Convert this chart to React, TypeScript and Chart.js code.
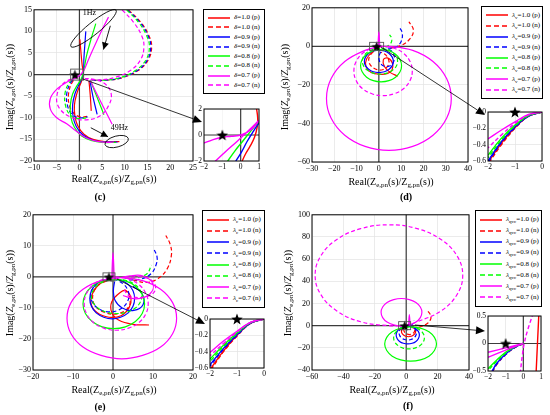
import { useEffect, useRef } from 'react';
import { Chart, registerables } from 'chart.js';

Chart.register(...registerables);

type P = [number, number] | null;
type Box = { l: number; t: number; w: number; h: number };
type Note =
  | { kind: 'ellipse'; x: number; y: number; rx: number; ry: number; rot: number }
  | { kind: 'arrow'; x: number; y: number; x2: number; y2: number }
  | { kind: 'text'; x: number; y: number; text: string }
  | { kind: 'box'; x: number; y: number; w: number; h: number };

const FONT = '"Liberation Serif", "Times New Roman", serif';
const RED = '#ff0000';
const BLUE = '#0000ff';
const GREEN = '#00ff00';
const MAGENTA = '#ff00ff';

const gainLabels = ['1.0', '0.9', '0.8', '0.7'];
const gainColors = [RED, BLUE, GREEN, MAGENTA];
const critical: P[] = [[-1, 0]];

// ---- (c) delta ----
const cTicksX = [-10, -5, 0, 5, 10, 15, 20, 25];
const cTicksY = [-20, -15, -10, -5, 0, 5, 10, 15];
const cRedP: P[] = [[0.1, 8.2], [0.35, 5], [0.6, 2.2], [0.85, 0.3], [0.7, -0.8], [0.1, -2.5], [-0.6, -4.5], [-1.1, -7], [-1, -9.5], [-0.4, -11.8], [1, -13.8], [3, -15], [5.5, -15.5], [8.8, -15.5], null, [2.1, -1.4], [2.4, -5], [2.6, -8.4]];
const cBlueP: P[] = [[1.4, 10], [1.2, 7], [1, 4], [0.9, 1], [0.6, -0.8], [-0.2, -2.5], [-1, -4.5], [-1.5, -7], [-1.4, -9.7], [-0.7, -12], [0.8, -14], [3, -15.2], [5.5, -15.6], [8.4, -15.6], null, [2.3, -1.4], [3, -5.2], [3.9, -9.2]];
const cGreenP: P[] = [[3.6, 11.8], [2.5, 8], [1.6, 4.5], [1, 1.2], [0.5, -0.8], [-0.5, -2.5], [-1.5, -4.5], [-2, -7], [-1.9, -9.8], [-1.1, -12.2], [0.5, -14.2], [2.8, -15.3], [5.2, -15.7], [8, -15.7], null, [2.4, -1.3], [3.8, -5], [5.4, -9.3]];
const cMagentaP: P[] = [[6.4, 13.3], [4.8, 10], [3.4, 6.8], [2, 3.5], [0.8, 0.7], [-0.5, -0.6], [-2.5, -1.6], [-4.8, -3.2], [-6.4, -5.5], [-6.4, -8], [-5, -10], [-2.8, -11.4], [-0.8, -13], [1.2, -14.5], [3.6, -15.4], [6.2, -15.7], [7.6, -15.6], null, [2.4, -1.4], [4.8, -6.5], [7.2, -11.5]];
const cRedN: P[] = [[10.8, 15], [13.6, 12], [15.3, 9], [15.9, 6.5], [15.2, 3.5], [13, 1], [9.5, -0.7], [6, -1.3], [3, -1.3], null, [-0.3, -0.3], [-1.6, -1.8], [-2.4, -4.5], [-2.2, -7.2], [-1.2, -9], [0.3, -9.8], [2, -9.6]];
const cBlueN: P[] = [[10.6, 15], [13.4, 12], [15.1, 9], [15.7, 6.5], [15, 3.5], [12.8, 1], [9.3, -0.7], [5.8, -1.3], [2.8, -1.3], null, [-0.4, -0.3], [-1.9, -1.8], [-2.8, -4.5], [-2.6, -7.3], [-1.6, -9.2], [0, -10], [1.8, -9.8]];
const cGreenN: P[] = [[10.4, 15], [13.1, 12], [14.8, 9], [15.4, 6.5], [14.7, 3.5], [12.4, 1], [9, -0.7], [5.5, -1.3], [2.6, -1.3], null, [-0.5, -0.3], [-2.2, -1.8], [-3.2, -4.5], [-3, -7.4], [-2, -9.4], [-0.4, -10.2], [1.5, -10]];
const cMagentaN: P[] = [[9.4, 15], [12, 12], [13.7, 9], [14.2, 6.5], [13.5, 3.5], [11.3, 1], [8, -0.6], [4.5, -1.2], [1.5, -1.2], null, [-0.5, -0.4], [-3.8, -2.3], [-5, -5.2], [-4.4, -7.8], [-2, -9.8], [1, -10.5], [4.5, -9.6], [6.5, -7], [7, -4.5], [5.8, -2.3], [3.2, -1.1], [1.2, -0.9]];
const ciTicksX = [-2, -1, 0, 1];
const ciTicksY = [-2, 0, 2];
const ciRedP: P[] = [[0.86, 2.1], [0.93, 1.3], [0.9, 0.6], [0.75, -0.2], [0.5, -0.9], [0.25, -1.5], [0.05, -2.1]];
const ciBlueP: P[] = [[1.05, 1.05], [0.7, 0.3], [0.35, -0.5], [0.05, -1.3], [-0.3, -2.1]];
const ciGreenP: P[] = [[1.05, 1.15], [0.55, 0.3], [0.1, -0.5], [-0.3, -1.2], [-0.75, -2.1]];
const ciMagentaP: P[] = [[1.05, 1.2], [0.4, 0.3], [-0.2, -0.5], [-0.8, -1.25], [-1.45, -2.1], null, [1.05, 1.2], [0.6, 0.45], [0.06, 0.02], [-0.5, -0.1], [-1, -0.17], [-1.5, -0.35], [-2.1, -0.68]];

// ---- (d) lambda_v ----
const dTicksX = [-30, -20, -10, 0, 10, 20, 30, 40];
const dTicksY = [-60, -40, -20, 0, 20];
const dRedP: P[] = [[0.5, -0.5], [-3, -3], [-5.5, -6.5], [-5.8, -10.5], [-3.5, -13.5], [0.5, -14.5], [4, -14], [6, -12], [6, -8.5], [3.8, -6], [2, -7], [2.5, -10.5], [5, -13.5], [8.5, -15.5]];
const dRedN: P[] = [[0, -1], [-3.5, -4], [-4.5, -8], [-2, -11.5], [2, -12], [4.5, -9], [3.5, -5], [1, -3], null, [5, -1], [10, 0.5], [14, 4], [15.5, 8.5], [13.5, 12.8]];
const dBlueP: P[] = [[0, -2], [-2.5, -2.4], [-4.6, -3.7], [-6, -5.6], [-6.5, -7.8], [-6, -10], [-4.6, -11.9], [-2.5, -13.2], [0, -13.6], [2.5, -13.2], [4.6, -11.9], [6, -10], [6.5, -7.8], [6, -5.6], [4.6, -3.7], [2.5, -2.4], [0, -2]];
const dBlueN: P[] = [[3.5, -1.5], [2.2, -1.8], [1, -2.8], [0.3, -4.3], [0, -6], [0.3, -7.7], [1, -9.2], [2.2, -10.2], [3.5, -10.5], [4.8, -10.2], [6, -9.2], [6.7, -7.7], [7, -6], [6.7, -4.3], [6, -2.8], [4.8, -1.8], [3.5, -1.5], null, [4, -1], [7.5, -0.5], [10, 2.5], [10.5, 7], [9, 10.3]];
const dGreenP: P[] = [[1, -1.7], [-2.5, -2.3], [-5.5, -4.1], [-7.5, -6.8], [-8.2, -10], [-7.5, -13.2], [-5.5, -16], [-2.5, -17.8], [1, -18.4], [4.5, -17.8], [7.5, -16], [9.5, -13.2], [10.2, -10], [9.5, -6.8], [7.5, -4.1], [4.5, -2.3], [1, -1.7]];
const dGreenN: P[] = [[0.5, -1], [-2.5, -1.5], [-5.1, -3], [-6.8, -5.1], [-7.4, -7.7], [-6.8, -10.3], [-5.1, -12.4], [-2.5, -13.9], [0.5, -14.4], [3.5, -13.9], [6.1, -12.4], [7.8, -10.3], [8.4, -7.7], [7.8, -5.1], [6.1, -3], [3.5, -1.5], [0.5, -1], null, [3, -0.5], [5.3, 1.5], [5.8, 4], [4.8, 6]];
const dMagentaP: P[] = [[0, -0.2], [-6.2, -2.1], [-15.3, -7.9], [-21.4, -16.7], [-23.5, -27], [-21.4, -37.3], [-15.3, -46.1], [-6.2, -51.9], [4.5, -54], [15.2, -51.9], [24.3, -46.1], [30.4, -37.3], [32.5, -27], [30.4, -16.7], [24.3, -7.9], [15.2, -2.1], [4.5, 0], [0, -0.2], null, [-0.4, 0], [0, 7.5], [0.4, 0]];
const dMagentaN: P[] = [[1.9, 0], [-3.1, -1], [-7.4, -3.7], [-10.2, -7.9], [-11.2, -12.8], [-10.2, -17.7], [-7.4, -21.9], [-3.1, -24.6], [1.9, -25.6], [6.9, -24.6], [11.2, -21.9], [14, -17.7], [15, -12.8], [14, -7.9], [11.2, -3.7], [6.9, -1], [1.9, 0]];
const diTicksX = [-2, -1, 0];
const diTicksY = [-0.6, -0.4, -0.2, 0];
const diRedP: P[] = [[0, 0], [-0.5, -0.05], [-1, -0.19], [-1.5, -0.38], [-2, -0.62]];
const diRedN: P[] = [[0, 0], [-0.5, -0.05], [-1, -0.2], [-1.5, -0.4], [-2, -0.64]];
const diBlueP: P[] = [[0, 0], [-0.5, -0.05], [-1, -0.18], [-1.5, -0.36], [-2, -0.6]];
const diBlueN: P[] = [[0, 0], [-0.5, -0.05], [-1, -0.19], [-1.5, -0.37], [-2, -0.62]];
const diGreenP: P[] = [[0, 0], [-0.5, -0.04], [-1, -0.16], [-1.5, -0.32], [-2, -0.53]];
const diGreenN: P[] = [[0, 0], [-0.5, -0.045], [-1, -0.17], [-1.5, -0.34], [-2, -0.56]];
const diMagentaP: P[] = [[0, 0], [-0.5, -0.03], [-1, -0.12], [-1.5, -0.22], [-2, -0.33]];
const diMagentaN: P[] = [[0, 0], [-0.5, -0.035], [-1, -0.14], [-1.5, -0.28], [-2, -0.44]];

// ---- (e) lambda_c ----
const eTicksX = [-20, -10, 0, 10, 20];
const eTicksY = [-30, -20, -10, 0, 10, 20];
const eRedP: P[] = [[0.3, -0.5], [-3, -2], [-5, -5], [-5.5, -8.5], [-4, -11.5], [-1, -13], [2, -12.5], [4, -10], [4.5, -7], [3.3, -4.5], [1.8, -5], [-0.3, -8], [-0.3, -11.5], [1.5, -14], [5, -15.3], [9, -15.5]];
const eRedN: P[] = [[-0.3, -0.8], [-3.5, -2.5], [-5, -5.5], [-4.6, -9], [-2, -11.5], [1.5, -11.8], [4, -9.5], [4, -6], [2.5, -3.5], null, [5, -1], [8.5, -1.8], [11.3, -0.5], [13.5, 2.5], [14.6, 7], [14.3, 10.5], [13.2, 13.3]];
const eBlueP: P[] = [[-0.2, -0.5], [-2.3, -1], [-4.2, -2.4], [-5.4, -4.5], [-5.8, -7], [-5.4, -9.5], [-4.2, -11.6], [-2.3, -13], [-0.2, -13.5], [1.9, -13], [3.8, -11.6], [5, -9.5], [5.4, -7], [5, -4.5], [3.8, -2.4], [1.9, -1], [-0.2, -0.5], null, [0.4, -1.5], [0.1, -4.5], [0.5, -7.5], [2.3, -10], [5.2, -10.8], [7.5, -9], [7.3, -5.5], [5, -3]];
const eBlueN: P[] = [[-0.8, -0.7], [-2.6, -1.1], [-4.2, -2.3], [-5.2, -4], [-5.6, -6], [-5.2, -8], [-4.2, -9.7], [-2.6, -10.9], [-0.8, -11.3], [1, -10.9], [2.6, -9.7], [3.6, -8], [4, -6], [3.6, -4], [2.6, -2.3], [1, -1.1], [-0.8, -0.7], null, [4, -1], [7, -0.7], [9.5, 1], [10.8, 4], [11, 6.5], [10.2, 9]];
const eGreenP: P[] = [[0.2, -0.7], [-2.7, -1.3], [-5.2, -3], [-6.9, -5.6], [-7.5, -8.7], [-6.9, -11.8], [-5.2, -14.4], [-2.7, -16.1], [0.2, -16.7], [3.1, -16.1], [5.6, -14.4], [7.3, -11.8], [7.9, -8.7], [7.3, -5.6], [5.6, -3], [3.1, -1.3], [0.2, -0.7]];
const eGreenN: P[] = [[0.9, -0.8], [-1.5, -1.2], [-3.6, -2.4], [-4.9, -4.2], [-5.4, -6.3], [-4.9, -8.4], [-3.6, -10.2], [-1.5, -11.4], [0.9, -11.8], [3.3, -11.4], [5.4, -10.2], [6.7, -8.4], [7.2, -6.3], [6.7, -4.2], [5.4, -2.4], [3.3, -1.2], [0.9, -0.8], null, [3, -0.5], [6, -0.2], [8.5, 1], [9.6, 3.8]];
const eMagentaP: P[] = [[2.2, -0.2], [-3, -1.2], [-7.5, -4], [-10.5, -8.3], [-11.5, -13.3], [-10.5, -18.3], [-7.5, -22.6], [-3, -25.3], [2.2, -26.4], [7.4, -25.3], [11.9, -22.6], [14.9, -18.3], [15.9, -13.3], [14.9, -8.3], [11.9, -4], [7.4, -1.2], [2.2, -0.2], null, [-0.3, 0], [0, 7.8], [0.3, 0], null, [0.4, -0.7], [4.2, 0.3], [7.5, 0.3], [10, -2.3], [9.2, -5.5], [5.8, -7.1], [2.5, -6]];
const eMagentaN: P[] = [[0.8, 0], [-2.3, -0.7], [-4.9, -2.5], [-6.6, -5.3], [-7.2, -8.6], [-6.6, -11.9], [-4.9, -14.7], [-2.3, -16.5], [0.8, -17.2], [3.9, -16.5], [6.5, -14.7], [8.2, -11.9], [8.8, -8.6], [8.2, -5.3], [6.5, -2.5], [3.9, -0.7], [0.8, 0], null, [3, -0.5], [7, 0], [10, -1.5], [10.5, -4.5], [8, -6.5], [4, -6], [2.5, -3.5]];
const eiRedP: P[] = [[0, 0], [-0.5, -0.05], [-1, -0.2], [-1.5, -0.39], [-2, -0.62]];
const eiRedN: P[] = [[0, 0], [-0.5, -0.055], [-1, -0.21], [-1.5, -0.4], [-2, -0.64]];
const eiBlueP: P[] = [[0, 0], [-0.5, -0.05], [-1, -0.19], [-1.5, -0.36], [-2, -0.56]];
const eiBlueN: P[] = [[0, 0], [-0.5, -0.05], [-1, -0.2], [-1.5, -0.37], [-2, -0.58]];
const eiGreenP: P[] = [[0, 0], [-0.5, -0.045], [-1, -0.17], [-1.5, -0.32], [-2, -0.49]];
const eiGreenN: P[] = [[0, 0], [-0.5, -0.045], [-1, -0.18], [-1.5, -0.34], [-2, -0.52]];
const eiMagentaP: P[] = [[0, 0], [-0.5, -0.04], [-1, -0.15], [-1.5, -0.27], [-2, -0.41]];
const eiMagentaN: P[] = [[0, 0], [-0.5, -0.04], [-1, -0.16], [-1.5, -0.3], [-2, -0.45]];

// ---- (f) lambda_qvc ----
const fTicksX = [-60, -40, -20, 0, 20, 40];
const fTicksY = [-40, -20, 0, 20, 40, 60, 80, 100];
const fRedP: P[] = [[1.5, 0], [-0.2, -0.4], [-1.7, -1.5], [-2.7, -3.1], [-3, -5], [-2.7, -6.9], [-1.7, -8.5], [-0.2, -9.6], [1.5, -10], [3.2, -9.6], [4.7, -8.5], [5.7, -6.9], [6, -5], [5.7, -3.1], [4.7, -1.5], [3.2, -0.4], [1.5, 0]];
const fRedN: P[] = [[4, -2], [9, -1], [13, 1.5], [15.5, 5.5], [15.5, 9.5], [13.7, 13.4], null, [2, 0], [0.7, -0.3], [-0.5, -1.2], [-1.2, -2.5], [-1.5, -4], [-1.2, -5.5], [-0.5, -6.8], [0.7, -7.7], [2, -8], [3.3, -7.7], [4.5, -6.8], [5.2, -5.5], [5.5, -4], [5.2, -2.5], [4.5, -1.2], [3.3, -0.3], [2, 0]];
const fBlueP: P[] = [[1, -0.5], [-1.8, -1.1], [-4.2, -2.8], [-5.8, -5.4], [-6.4, -8.5], [-5.8, -11.6], [-4.2, -14.2], [-1.8, -15.9], [1, -16.5], [3.8, -15.9], [6.2, -14.2], [7.8, -11.6], [8.4, -8.5], [7.8, -5.4], [6.2, -2.8], [3.8, -1.1], [1, -0.5]];
const fBlueN: P[] = [[1, 0], [-1.1, -0.5], [-2.9, -1.9], [-4.1, -4], [-4.5, -6.5], [-4.1, -9], [-2.9, -11.1], [-1.1, -12.5], [1, -13], [3.1, -12.5], [4.9, -11.1], [6.1, -9], [6.5, -6.5], [6.1, -4], [4.9, -1.9], [3.1, -0.5], [1, 0], null, [2.5, 0], [4.5, 2], [5, 4.5]];
const fGreenP: P[] = [[2.8, -1], [-3.5, -2.2], [-8.9, -5.5], [-12.4, -10.6], [-13.7, -16.5], [-12.4, -22.4], [-8.9, -27.5], [-3.5, -30.8], [2.8, -32], [9.1, -30.8], [14.5, -27.5], [18, -22.4], [19.3, -16.5], [18, -10.6], [14.5, -5.5], [9.1, -2.2], [2.8, -1]];
const fGreenN: P[] = [[1.8, -1], [-1.95, -1.8], [-5.1, -3.9], [-7.25, -7.2], [-8, -11], [-7.25, -14.8], [-5.1, -18.1], [-1.95, -20.2], [1.8, -21], [5.55, -20.2], [8.7, -18.1], [10.85, -14.8], [11.6, -11], [10.85, -7.2], [8.7, -3.9], [5.55, -1.8], [1.8, -1]];
const fMagentaP: P[] = [[-3, -0.5], [-8, 0.7], [-12.2, 3.2], [-15, 7.2], [-16, 12], [-15, 16.8], [-12.2, 20.8], [-8, 23.5], [-3, 24.5], [2, 23.5], [6.2, 20.8], [9, 16.8], [10, 12], [9, 7.2], [6.2, 3.2], [2, 0.7], [-3, -0.5], null, [1.5, 0], [2, 10], [2.5, 0]];
const fMagentaN: P[] = [[0, 0.3], [7, 3.5], [22.2, 13.3], [32.4, 28.1], [36, 45.5], [32.4, 62.9], [22.2, 77.7], [7, 87.5], [-11, 91], [-29, 87.5], [-44.2, 77.7], [-54.4, 62.9], [-58, 45.5], [-54.4, 28.1], [-44.2, 13.3], [-29, 3.5], [-11, 0], [0, 0.3]];
const fiTicksX = [-2, -1, 0, 1];
const fiTicksY = [-0.5, 0, 0.5];
const fiRedP: P[] = [[0.72, -0.55], [0.8, 0], [0.88, 0.55]];
const fiRedN: P[] = [[0, 0], [-0.5, -0.08], [-1, -0.2], [-1.5, -0.38], [-1.75, -0.52]];
const fiBlueP: P[] = [[0, 0], [-0.5, -0.07], [-1, -0.19], [-1.5, -0.36], [-1.8, -0.52]];
const fiBlueN: P[] = [[0, 0], [-0.5, -0.075], [-1, -0.2], [-1.5, -0.37], [-1.78, -0.52]];
const fiGreenP: P[] = [[0, 0], [-0.5, -0.06], [-1, -0.16], [-1.5, -0.3], [-2, -0.46]];
const fiGreenN: P[] = [[0, 0], [-0.5, -0.065], [-1, -0.17], [-1.5, -0.32], [-2, -0.49]];
const fiMagentaP: P[] = [[0, 0], [-1, -0.08], [-2, -0.16], null, [0, 0], [-1, -0.12], [-2, -0.25]];
const fiMagentaN: P[] = [[-0.18, -0.55], [-0.05, -0.2], [0.05, 0], [0.25, 0.25], [0.56, 0.55]];

// annotations in data units (ellipse radii in px)
const cNotes: Note[] = [
  { kind: 'ellipse', x: 3.1, y: 10.7, rx: 29, ry: 6, rot: -39 },
  { kind: 'arrow', x: 6.8, y: 11.3, x2: 5.3, y2: 5.8 },
  { kind: 'text', x: 2.2, y: 14.2, text: '1Hz' },
  { kind: 'ellipse', x: 8.2, y: -15.5, rx: 12, ry: 5.5, rot: -15 },
  { kind: 'arrow', x: 2.5, y: -12.3, x2: 6.3, y2: -14.4 },
  { kind: 'text', x: 8.8, y: -12.4, text: '49Hz' },
  { kind: 'box', x: -0.5, y: 0, w: 13, h: 11 },
];
const dNotes: Note[] = [{ kind: 'box', x: -1, y: 0, w: 14, h: 8 }];
const eNotes: Note[] = [{ kind: 'box', x: -1, y: 0, w: 12, h: 8 }];
const fNotes: Note[] = [{ kind: 'box', x: -1, y: 0, w: 12, h: 8 }];

// zoom arrows (page px): x1, y1, x2, y2
const zoomArrows = [
  [83, 79, 202, 122],
  [381, 47, 485, 115],
  [117, 279, 205, 324],
  [415, 325, 485, 331],
];

const fmt = (v: number) => (v < 0 ? '\u2212' + String(Math.abs(v)) : String(v));
const toXY = (pts: P[]) => pts.map((p) => (p ? { x: p[0], y: p[1] } : { x: NaN, y: NaN }));

function starCanvas(size: number) {
  const c = document.createElement('canvas');
  c.width = size;
  c.height = size;
  const g = c.getContext('2d')!;
  const r = size / 2;
  g.beginPath();
  for (let k = 0; k < 10; k++) {
    const rad = k % 2 === 0 ? r : r * 0.42;
    const a = -Math.PI / 2 + (k * Math.PI) / 5;
    const px = r + rad * Math.cos(a);
    const py = r + 0.6 + rad * Math.sin(a);
    if (k === 0) g.moveTo(px, py);
    else g.lineTo(px, py);
  }
  g.closePath();
  g.fillStyle = '#000';
  g.fill();
  return c;
}

function headPath(ctx: CanvasRenderingContext2D, x1: number, y1: number, x2: number, y2: number, len: number, half: number) {
  const d = Math.hypot(x2 - x1, y2 - y1) || 1;
  const ux = (x2 - x1) / d;
  const uy = (y2 - y1) / d;
  ctx.beginPath();
  ctx.moveTo(x2, y2);
  ctx.lineTo(x2 - ux * len - uy * half, y2 - uy * len + ux * half);
  ctx.lineTo(x2 - ux * len + uy * half, y2 - uy * len - ux * half);
  ctx.closePath();
  ctx.fill();
}

function framePlugin(notes: Note[]) {
  return {
    id: 'frame',
    beforeDatasetsDraw(chart: any) {
      const { ctx, chartArea: a, scales } = chart;
      const x0 = scales.x.getPixelForValue(0);
      const y0 = scales.y.getPixelForValue(0);
      ctx.save();
      ctx.strokeStyle = '#3c3c3c';
      ctx.lineWidth = 1.2;
      ctx.beginPath();
      if (x0 > a.left + 1 && x0 < a.right - 1) {
        ctx.moveTo(x0, a.top);
        ctx.lineTo(x0, a.bottom);
      }
      if (y0 > a.top + 1 && y0 < a.bottom - 1) {
        ctx.moveTo(a.left, y0);
        ctx.lineTo(a.right, y0);
      }
      ctx.stroke();
      ctx.restore();
    },
    afterDatasetsDraw(chart: any) {
      const { ctx, chartArea: a, scales } = chart;
      const px = (v: number) => scales.x.getPixelForValue(v);
      const py = (v: number) => scales.y.getPixelForValue(v);
      ctx.save();
      ctx.strokeStyle = '#000';
      ctx.fillStyle = '#000';
      ctx.lineWidth = 0.9;
      for (const n of notes) {
        if (n.kind === 'ellipse') {
          ctx.beginPath();
          ctx.ellipse(px(n.x), py(n.y), n.rx, n.ry, (n.rot * Math.PI) / 180, 0, Math.PI * 2);
          ctx.stroke();
        } else if (n.kind === 'arrow') {
          const x1 = px(n.x), y1 = py(n.y), x2 = px(n.x2), y2 = py(n.y2);
          ctx.beginPath();
          ctx.moveTo(x1, y1);
          ctx.lineTo(x2, y2);
          ctx.stroke();
          headPath(ctx, x1, y1, x2, y2, 7, 3.5);
        } else if (n.kind === 'text') {
          ctx.font = `8px ${FONT}`;
          ctx.textAlign = 'center';
          ctx.textBaseline = 'middle';
          ctx.fillText(n.text, px(n.x), py(n.y));
        } else {
          ctx.strokeStyle = '#555';
          ctx.strokeRect(px(n.x) - n.w / 2, py(n.y) - n.h / 2, n.w, n.h);
          ctx.strokeStyle = '#000';
        }
      }
      ctx.lineWidth = 1;
      ctx.strokeRect(a.left, a.top, a.right - a.left, a.bottom - a.top);
      ctx.restore();
    },
  };
}

type PlotProps = {
  box: Box;
  xt: number[];
  yt: number[];
  p: P[][];
  n: P[][];
  pad: number[];
  fs?: number;
  lw?: number;
  grid?: string;
  notes?: Note[];
  star?: number;
};

function Plot({ box, xt, yt, p, n, pad, fs = 8, lw = 1.2, grid = '#e2e2e2', notes = [], star = 12 }: PlotProps) {
  const ref = useRef<HTMLCanvasElement>(null);
  const [pl, pb, pt, pr] = pad;

  useEffect(() => {
    if (!ref.current) return;
    const curves: any[] = [];
    for (let i = 3; i >= 0; i--) {
      for (const [pts, dashed] of [[n[i], true], [p[i], false]] as [P[], boolean][]) {
        if (!pts.length) continue;
        curves.push({
          data: toXY(pts),
          showLine: true,
          borderColor: gainColors[i],
          borderWidth: lw,
          borderDash: dashed ? [4, 2.5] : [],
          pointRadius: 0,
          tension: 0.4,
          spanGaps: false,
        });
      }
    }
    const axis = (ticks: number[], fit: (s: any) => void) => ({
      type: 'linear',
      min: ticks[0],
      max: ticks[ticks.length - 1],
      afterBuildTicks: (s: any) => {
        s.ticks = ticks.map((v) => ({ value: v }));
      },
      afterFit: fit,
      ticks: {
        font: { family: FONT, size: fs },
        color: '#000',
        padding: 2,
        maxRotation: 0,
        autoSkip: false,
        callback: (v: number) => fmt(v),
      },
      grid: { color: grid, lineWidth: 0.7, drawTicks: false },
      border: { display: false },
    });

    const chart = new Chart(ref.current, {
      type: 'scatter',
      data: {
        datasets: [
          {
            data: toXY(critical),
            pointStyle: starCanvas(star),
            pointRadius: star / 2,
            clip: false,
            showLine: false,
          } as any,
          ...curves,
        ],
      },
      options: {
        animation: false,
        responsive: true,
        maintainAspectRatio: false,
        events: [],
        layout: { padding: { top: pt, right: pr, left: 0, bottom: 0 } },
        plugins: { legend: { display: false }, tooltip: { enabled: false } },
        scales: {
          x: axis(xt, (s) => { s.height = pb; }),
          y: axis(yt, (s) => { s.width = pl; }),
        } as any,
      },
      plugins: [framePlugin(notes)],
    });

    return () => {
      chart.destroy();
    };
  }, []);

  return (
    <div style={{ position: 'absolute', left: box.l - pl, top: box.t - pt, width: box.w + pl + pr, height: box.h + pt + pb }}>
      <canvas ref={ref}></canvas>
    </div>
  );
}

function Legend({ box, sym, sub }: { box: Box; sym: string; sub?: string }) {
  const rows = gainLabels.flatMap((g, i) => [
    { g, i, k: 'p' },
    { g, i, k: 'n' },
  ]);
  return (
    <div
      style={{
        position: 'absolute', left: box.l, top: box.t, width: box.w, height: box.h,
        border: '1px solid #000', background: '#fff', boxSizing: 'border-box',
        display: 'flex', flexDirection: 'column', justifyContent: 'center',
        fontFamily: FONT, fontSize: 7, lineHeight: 1,
      }}
    >
      {rows.map((r) => (
        <div key={r.g + r.k} style={{ display: 'flex', alignItems: 'center', height: (box.h - 8) / 8 }}>
          <svg width={22} height={4} style={{ marginLeft: 4, marginRight: 4, flex: 'none' }}>
            <line x1={0} y1={2} x2={22} y2={2} stroke={gainColors[r.i]} strokeWidth={1.5} strokeDasharray={r.k === 'n' ? '5 3' : undefined} />
          </svg>
          <span style={{ whiteSpace: 'nowrap' }}>
            <i>{sym}</i>
            {sub && <span style={{ fontSize: 5, position: 'relative', top: 2 }}>{sub}</span>}={r.g} ({r.k})
          </span>
        </div>
      ))}
    </div>
  );
}

const subStyle = { fontSize: '0.7em', position: 'relative' as const, top: '0.3em' };

function Titles({ xc, xy, yx, yc, tx, ty, tag }: { xc: number; xy: number; yx: number; yc: number; tx: number; ty: number; tag: string }) {
  const base = { position: 'absolute' as const, fontFamily: FONT, fontSize: 10, lineHeight: 1, whiteSpace: 'nowrap' as const };
  return (
    <>
      <div style={{ ...base, left: xc, top: xy, transform: 'translate(-50%, -50%)' }}>
        Real(Z<span style={subStyle}>e,pn</span>(s)/Z<span style={subStyle}>g,pn</span>(s))
      </div>
      <div style={{ ...base, left: yx, top: yc, transform: 'translate(-50%, -50%) rotate(-90deg)' }}>
        Imag(<i>Z</i><span style={subStyle}>e,pn</span>(s)/<i>Z</i><span style={subStyle}>g,pn</span>(s))
      </div>
      <div style={{ ...base, left: tx, top: ty, fontWeight: 'bold', transform: 'translate(-50%, -50%)' }}>{tag}</div>
    </>
  );
}

function ZoomArrows() {
  return (
    <svg width={550} height={415} style={{ position: 'absolute', left: 0, top: 0, pointerEvents: 'none' }}>
      {zoomArrows.map(([x1, y1, x2, y2], i) => {
        const d = Math.hypot(x2 - x1, y2 - y1);
        const ux = (x2 - x1) / d;
        const uy = (y2 - y1) / d;
        const bx = x2 - ux * 9;
        const by = y2 - uy * 9;
        const pts = `${x2},${y2} ${bx - uy * 4},${by + ux * 4} ${bx + uy * 4},${by - ux * 4}`;
        return (
          <g key={i}>
            <line x1={x1} y1={y1} x2={bx} y2={by} stroke="#000" strokeWidth={0.8} />
            <polygon points={pts} fill="#000" />
          </g>
        );
      })}
    </svg>
  );
}

export default function App() {
  useEffect(() => {
    document.body.style.margin = '0';
  }, []);

  const mainPad = [24, 14, 6, 8];
  const insetPad = [18, 11, 5, 5];

  return (
    <div style={{ position: 'fixed', left: 0, top: 0, width: 550, height: 415, background: '#fff', overflow: 'hidden' }}>
      {/* (c) */}
      <Plot box={{ l: 34, t: 9, w: 159, h: 152 }} xt={cTicksX} yt={cTicksY}
        p={[cRedP, cBlueP, cGreenP, cMagentaP]} n={[cRedN, cBlueN, cGreenN, cMagentaN]}
        pad={mainPad} notes={cNotes} star={11} />
      <Plot box={{ l: 204, t: 107, w: 57, h: 54 }} xt={ciTicksX} yt={ciTicksY}
        p={[ciRedP, ciBlueP, ciGreenP, ciMagentaP]} n={[[], [], [], []]}
        pad={[13, 11, 5, 5]} fs={7.5} lw={1.4} grid="#f2f2f2" star={12} />
      {/* (d) */}
      <Plot box={{ l: 312, t: 7, w: 156, h: 155 }} xt={dTicksX} yt={dTicksY}
        p={[dRedP, dBlueP, dGreenP, dMagentaP]} n={[dRedN, dBlueN, dGreenN, dMagentaN]}
        pad={[26, 14, 6, 8]} notes={dNotes} star={11} />
      <Plot box={{ l: 488, t: 110, w: 56, h: 51 }} xt={diTicksX} yt={diTicksY}
        p={[diRedP, diBlueP, diGreenP, diMagentaP]} n={[diRedN, diBlueN, diGreenN, diMagentaN]}
        pad={insetPad} fs={7.5} lw={1.4} star={12} />
      {/* (e) */}
      <Plot box={{ l: 33, t: 214, w: 160, h: 156 }} xt={eTicksX} yt={eTicksY}
        p={[eRedP, eBlueP, eGreenP, eMagentaP]} n={[eRedN, eBlueN, eGreenN, eMagentaN]}
        pad={mainPad} notes={eNotes} star={11} />
      <Plot box={{ l: 210, t: 317, w: 56, h: 51 }} xt={diTicksX} yt={diTicksY}
        p={[eiRedP, eiBlueP, eiGreenP, eiMagentaP]} n={[eiRedN, eiBlueN, eiGreenN, eiMagentaN]}
        pad={insetPad} fs={7.5} lw={1.4} star={12} />
      {/* (f) */}
      <Plot box={{ l: 312, t: 214, w: 157, h: 156 }} xt={fTicksX} yt={fTicksY}
        p={[fRedP, fBlueP, fGreenP, fMagentaP]} n={[fRedN, fBlueN, fGreenN, fMagentaN]}
        pad={[28, 14, 6, 8]} notes={fNotes} star={11} />
      <Plot box={{ l: 488, t: 314, w: 55, h: 57 }} xt={fiTicksX} yt={fiTicksY}
        p={[fiRedP, fiBlueP, fiGreenP, fiMagentaP]} n={[fiRedN, fiBlueN, fiGreenN, fiMagentaN]}
        pad={[16, 11, 5, 5]} fs={7.5} lw={1.4} star={12} />

      <ZoomArrows />

      <Legend box={{ l: 203, t: 9, w: 62, h: 85 }} sym="δ" />
      <Legend box={{ l: 481, t: 6, w: 62, h: 93 }} sym="λ" sub="v" />
      <Legend box={{ l: 202, t: 210, w: 63, h: 98 }} sym="λ" sub="c" />
      <Legend box={{ l: 475, t: 210, w: 67, h: 97 }} sym="λ" sub="qvc" />

      <Titles xc={114} xy={179} yx={10} yc={87} tx={100} ty={197} tag="(c)" />
      <Titles xc={391} xy={182} yx={285} yc={87} tx={406} ty={197} tag="(d)" />
      <Titles xc={114} xy={390} yx={10} yc={293} tx={100} ty={407} tag="(e)" />
      <Titles xc={392} xy={390} yx={288} yc={293} tx={408} ty={406} tag="(f)" />
    </div>
  );
}
